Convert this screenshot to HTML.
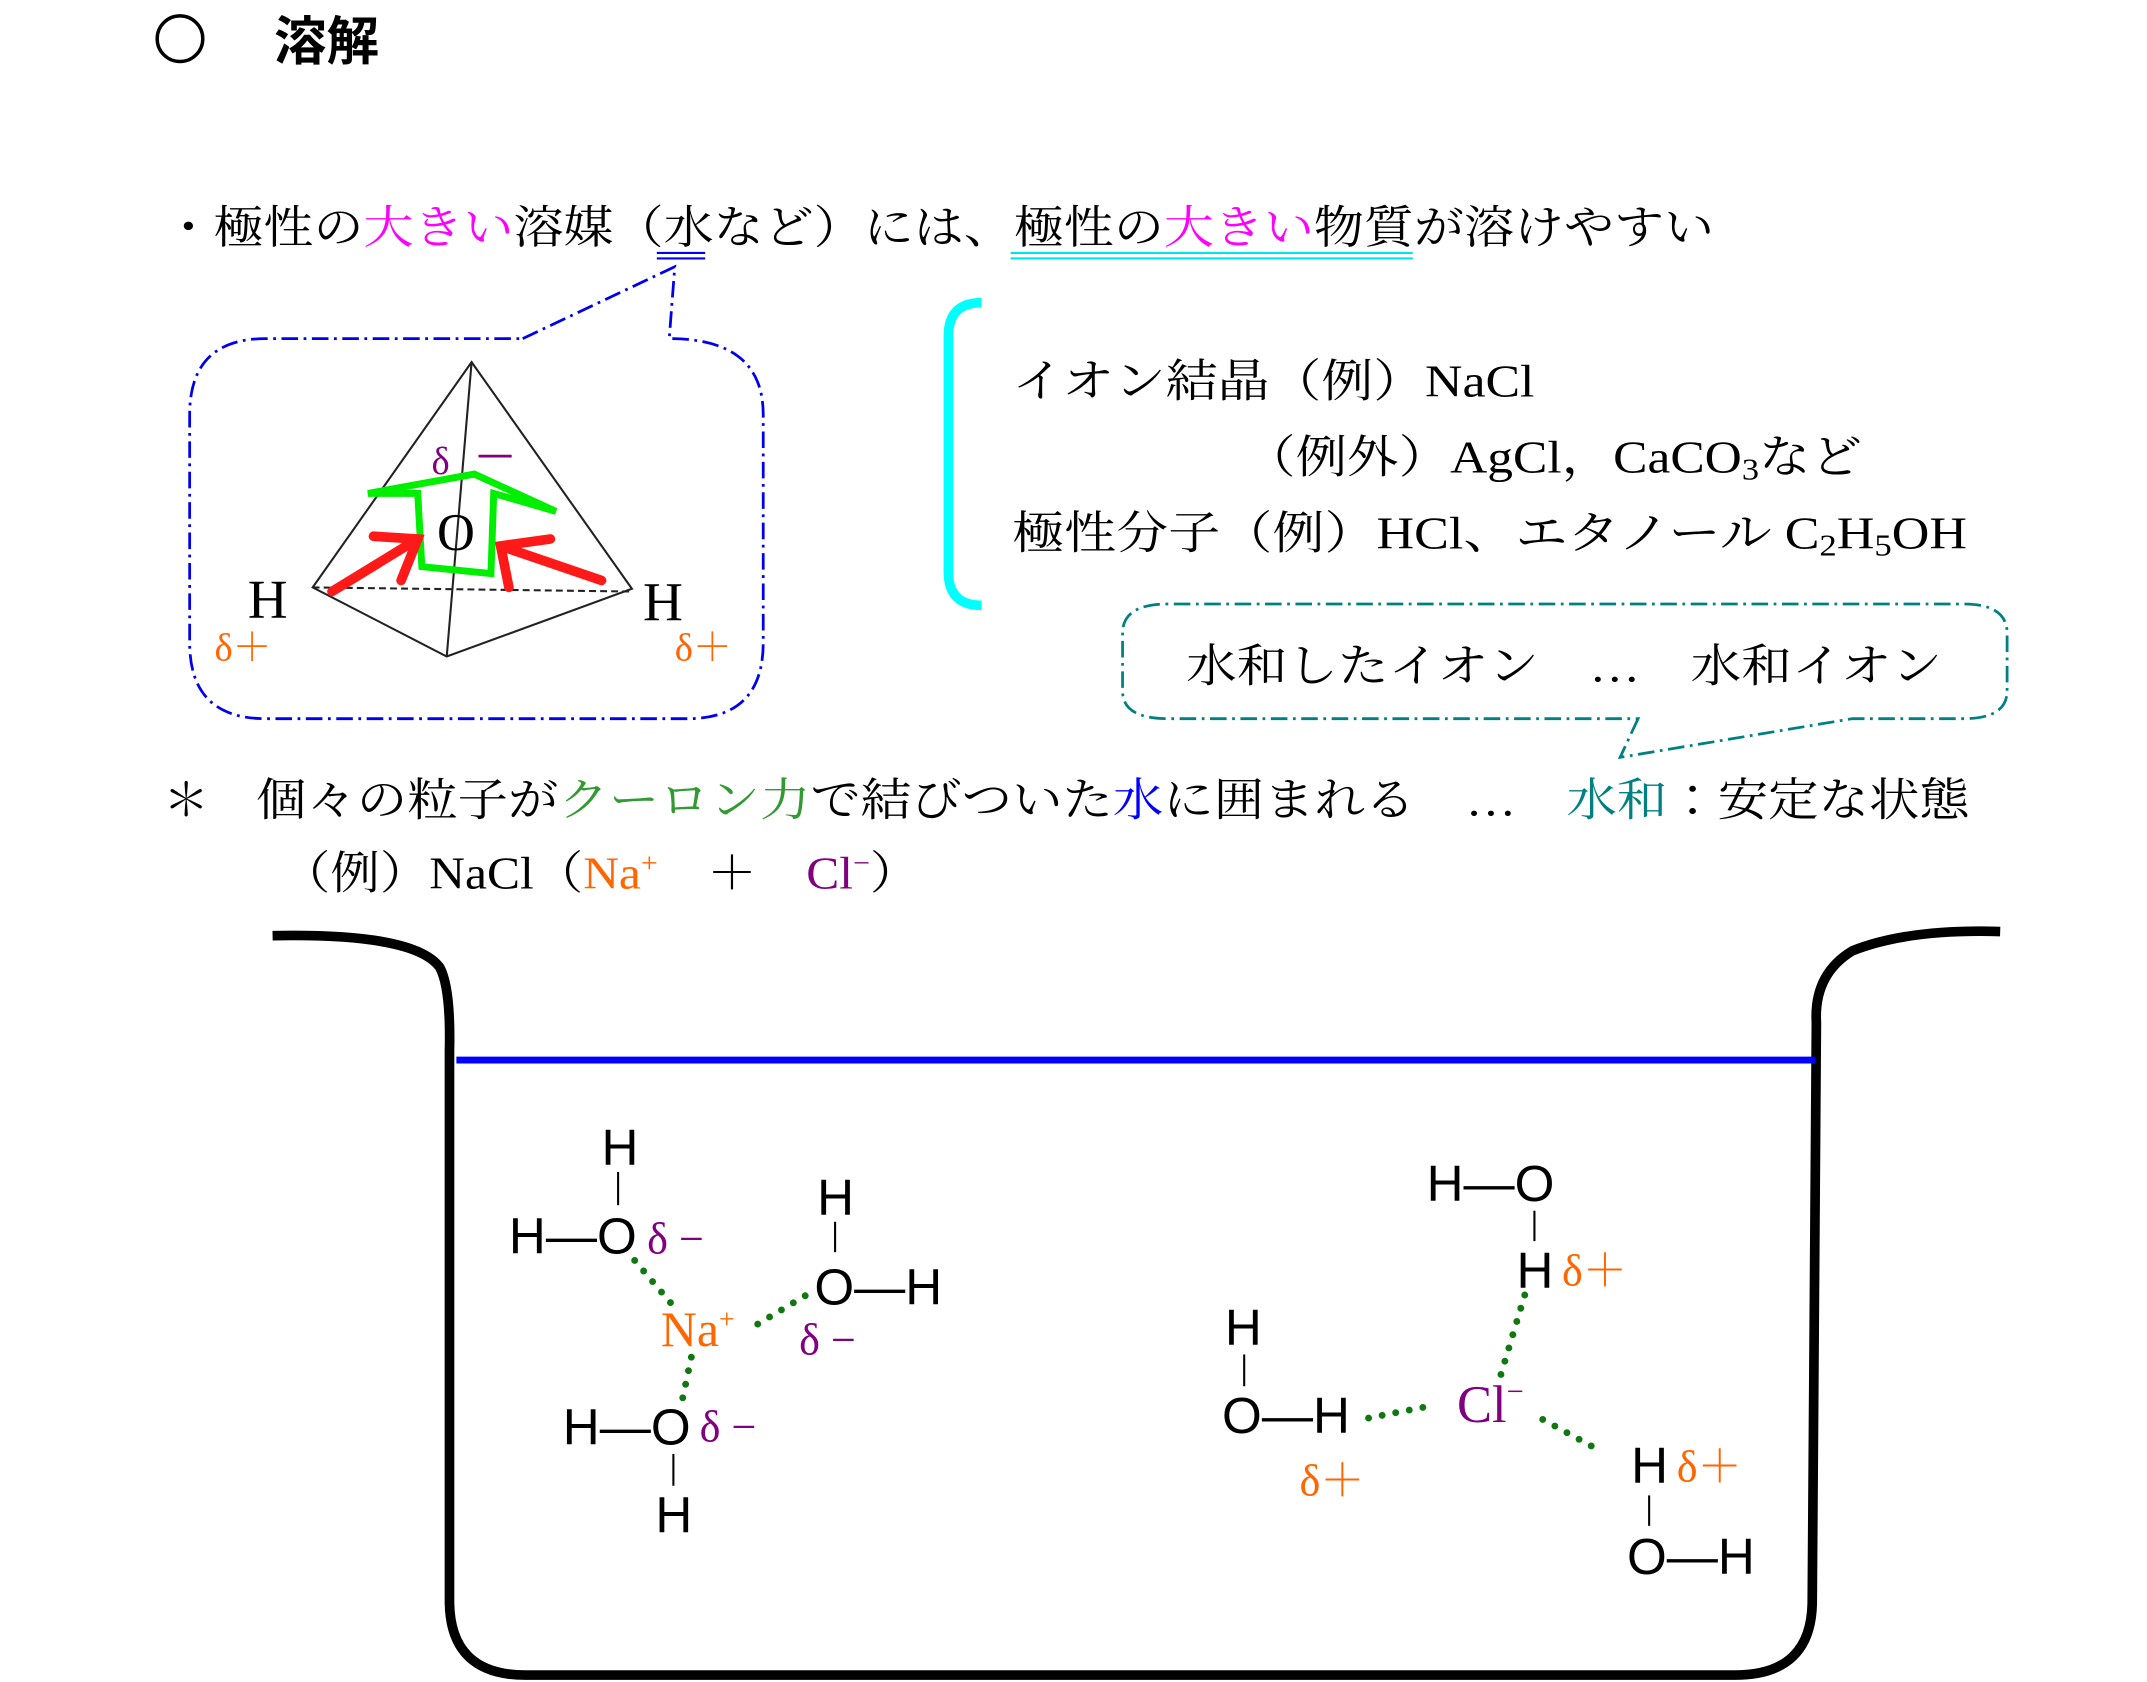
<!DOCTYPE html>
<html><head><meta charset="utf-8"><style>html,body{margin:0;padding:0;background:#fff}svg{display:block}
.s{font-family:"Liberation Serif","Noto Serif CJK JP",serif}
.g{font-family:"Liberation Sans","Noto Sans CJK JP",sans-serif}</style></head><body>
<svg width="2147" height="1682" viewBox="0 0 1553 1217" xmlns="http://www.w3.org/2000/svg">
<circle cx="130" cy="28" r="16.5" fill="none" stroke="#000" stroke-width="2.5"/>
<text x="198" y="43" class="g" font-size="38" font-weight="bold">溶解</text>
<text x="118" y="176" class="s" font-size="33" textLength="1122" lengthAdjust="spacingAndGlyphs">・極性の<tspan fill="#ff00ff">大きい</tspan>溶媒（水など）には、極性の<tspan fill="#ff00ff">大きい</tspan>物質が溶けやすい</text>
<line x1="475" y1="183" x2="510" y2="183" stroke="#0000ff" stroke-width="1.5"/><line x1="475" y1="187" x2="510" y2="187" stroke="#0000ff" stroke-width="1.5"/>
<line x1="731" y1="183" x2="1022" y2="183" stroke="#00e5e5" stroke-width="1.5"/><line x1="731" y1="187" x2="1022" y2="187" stroke="#00e5e5" stroke-width="1.5"/>
<path d="M378,245 L488,193 L484,245 Q552,245 552,300 L552,465 Q552,520 497,520 L192,520 Q137,520 137,465 L137,300 Q137,245 192,245 Z" fill="none" stroke="#0000ee" stroke-width="2" stroke-dasharray="12,4,2,4"/>
<g stroke="#222" stroke-width="1.5" fill="none">
<path d="M341,262 L226,425 L323,475 L457,426 Z M341,262 L323,475"/>
<line x1="226" y1="425" x2="457" y2="428" stroke-dasharray="5,3"/></g>
<text x="312" y="343" class="s" font-size="28" fill="#800080">δ</text><line x1="346" y1="330" x2="370" y2="330" stroke="#800080" stroke-width="2"/>
<text x="316" y="398" class="s" font-size="38">O</text>
<polygon points="343,343 266,357 302,357 305,410 355,415 357,357 402,370" fill="none" stroke="#00ee00" stroke-width="5" stroke-linejoin="miter"/>
<g stroke="#ff1a1a" stroke-width="7" fill="none" stroke-linecap="round">
<path d="M240,428 L302,390 M270,388 L302,390 L290,420"/>
<path d="M435,420 L362,395 M368,425 L362,395 L398,390"/></g>
<text x="179" y="447" class="s" font-size="40">H</text>
<text x="155" y="478" class="s" font-size="28" fill="#ff6600">δ＋</text>
<text x="465" y="449" class="s" font-size="40">H</text>
<text x="488" y="478" class="s" font-size="28" fill="#ff6600">δ＋</text>
<path d="M710,219 Q686,219 686,243 L686,414 Q686,438 710,438" fill="none" stroke="#00ffff" stroke-width="7"/>
<text x="732" y="287" class="s" font-size="33" textLength="378" lengthAdjust="spacingAndGlyphs">イオン結晶（例）NaCl</text>
<text x="900" y="342" class="s" font-size="33" textLength="447" lengthAdjust="spacingAndGlyphs">（例外）AgCl，CaCO<tspan font-size="22" dy="5">3</tspan><tspan dy="-5">など</tspan></text>
<text x="732" y="397" class="s" font-size="33" textLength="691" lengthAdjust="spacingAndGlyphs">極性分子（例）HCl、エタノール C<tspan font-size="22" dy="5">2</tspan><tspan dy="-5">H</tspan><tspan font-size="22" dy="5">5</tspan><tspan dy="-5">OH</tspan></text>
<path d="M1185,520 L1172,548 L1340,520 L1420,520 Q1452,520 1452,500 L1452,458 Q1452,437 1420,437 L845,437 Q812,437 812,458 L812,500 Q812,520 845,520 Z" fill="none" stroke="#008080" stroke-width="2" stroke-dasharray="12,4,2,4"/>
<text x="858" y="493" class="s" font-size="33" textLength="547" lengthAdjust="spacingAndGlyphs">水和したイオン　…　水和イオン</text>
<text x="118" y="590" class="s" font-size="33">＊</text>
<text x="185" y="590" class="s" font-size="33" textLength="1240" lengthAdjust="spacingAndGlyphs">個々の粒子が<tspan fill="#339933">クーロン力</tspan>で結びついた<tspan fill="#0000ff">水</tspan>に囲まれる　…　<tspan fill="#008080">水和</tspan>：安定な状態</text>
<text x="203" y="643" class="s" font-size="33" textLength="462" lengthAdjust="spacingAndGlyphs">（例）NaCl（<tspan fill="#ff6600">Na<tspan font-size="20" dy="-12">+</tspan></tspan><tspan dy="12">　＋　</tspan><tspan fill="#800080">Cl<tspan font-size="20" dy="-12">−</tspan></tspan><tspan dy="12">）</tspan></text>
<path d="M197,677 Q300,675 318,700 Q326,715 325,760 L325,1160 Q326,1212 380,1212 L1255,1212 Q1310,1212 1311,1160 L1314,740 Q1312,705 1340,688 Q1380,672 1447,674" fill="none" stroke="#000" stroke-width="7"/>
<line x1="330" y1="767" x2="1313" y2="767" stroke="#0000ff" stroke-width="5"/>
<g class="g" font-size="37">
<text x="435" y="843">H</text><text x="368" y="907">H—O</text>
<text x="591" y="879">H</text><text x="589" y="944">O—H</text>
<text x="407" y="1045">H—O</text><text x="474" y="1109">H</text>
<text x="1032" y="869">H—O</text><text x="1097" y="932">H</text>
<text x="886" y="973">H</text><text x="884" y="1037">O—H</text>
<text x="1180" y="1073">H</text><text x="1177" y="1139">O—H</text>
</g>
<g stroke="#000" stroke-width="1.5">
<line x1="447" y1="848" x2="447" y2="872"/><line x1="604" y1="884" x2="604" y2="906"/>
<line x1="487" y1="1052" x2="487" y2="1075"/><line x1="1110" y1="876" x2="1110" y2="898"/>
<line x1="900" y1="980" x2="900" y2="1003"/><line x1="1193" y1="1082" x2="1193" y2="1104"/></g>
<g class="s" font-size="32">
<text x="468" y="907" fill="#800080">δ −</text><text x="578" y="980" fill="#800080">δ −</text>
<text x="506" y="1043" fill="#800080">δ −</text>
<text x="478" y="974" fill="#ff6600" font-size="36">Na<tspan font-size="20" dy="-13">+</tspan></text>
<text x="1130" y="930" fill="#ff6600">δ＋</text><text x="940" y="1082" fill="#ff6600">δ＋</text>
<text x="1213" y="1072" fill="#ff6600">δ＋</text>
<text x="1054" y="1029" fill="#800080" font-size="38">Cl<tspan font-size="22" dy="-15">−</tspan></text>
</g>
<g stroke="#117711" stroke-width="5" stroke-linecap="round" stroke-dasharray="0,10" fill="none">
<line x1="459" y1="912" x2="487" y2="945"/><line x1="548" y1="958" x2="590" y2="933"/>
<line x1="500" y1="982" x2="493" y2="1015"/>
<line x1="1103" y1="937" x2="1085" y2="997"/><line x1="990" y1="1026" x2="1036" y2="1017"/>
<line x1="1116" y1="1027" x2="1158" y2="1050"/></g>
</svg>
</body></html>
